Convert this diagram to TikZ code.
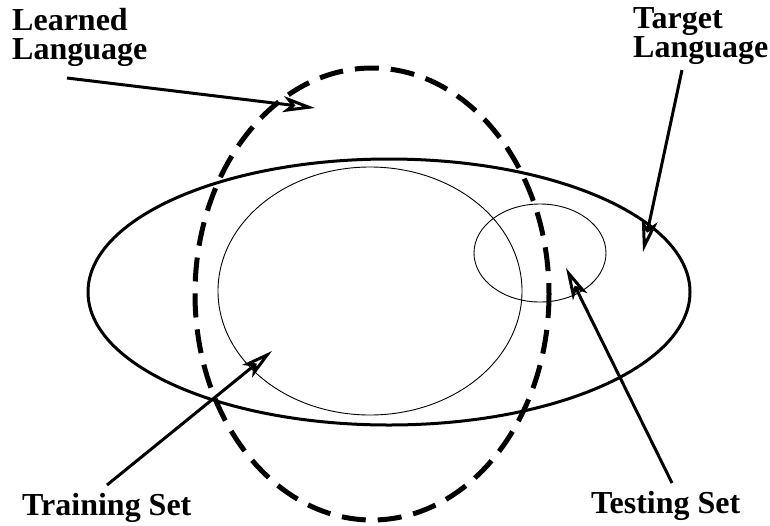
\documentclass[tikz,border=0pt]{standalone}
\usepackage{fontspec}
\setmainfont{Liberation Serif}
\usetikzlibrary{arrows.meta}
\begin{document}
\begin{tikzpicture}[x=1pt,y=-1pt,
  lbl/.style={anchor=north west,inner sep=0pt,align=left,font=\fontsize{32}{29}\selectfont\bfseries},
  ptr/.style={line width=3pt,-{Stealth[open,length=32pt,width=16pt,inset=8pt,line width=3pt]}},
  thin/.style={line width=0.9pt}]
\useasboundingbox (0,0) rectangle (770,525);
% shapes
\draw[line width=3pt] (389,292) ellipse [x radius=301,y radius=133];
\draw[thin] (370,291) ellipse [x radius=152,y radius=124];
\draw[thin] (540,253) ellipse [x radius=66,y radius=49];
\draw[line width=5pt,dash pattern=on 24pt off 12pt] (372,294) ellipse [x radius=177,y radius=226];
% labels
\node[lbl] (ll) at (12,8) {Learned\\Language};
\node[lbl] (tl) at (633,7) {Target\\Language};
\node[lbl,anchor=base west] (tr) at (22,515) {Training Set};
\node[lbl,anchor=base west] (ts) at (591,513) {Testing Set};
% pointer anchors
\coordinate (llA) at (67,78);
\coordinate (llB) at (315,108);
\coordinate (tlA) at (682,70);
\coordinate (tlB) at (643,252);
\coordinate (trA) at (107,485);
\coordinate (trB) at (272,351);
\coordinate (tsA) at (672,483);
\coordinate (tsB) at (566,268);
\draw[ptr] (llA) -- (llB);
\draw[ptr] (tlA) -- (tlB);
\draw[ptr] (trA) -- (trB);
\draw[ptr] (tsA) -- (tsB);
\end{tikzpicture}
\end{document}
